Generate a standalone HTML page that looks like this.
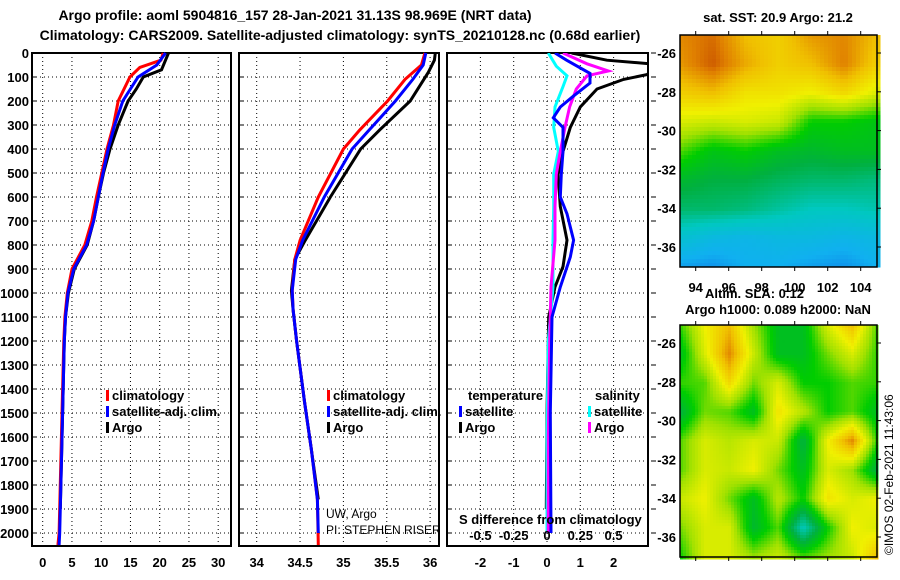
<!DOCTYPE html>
<html><head><meta charset="utf-8">
<style>
body{margin:0;background:#fff;}
svg{display:block;font-family:"Liberation Sans",sans-serif;}
.b{font-weight:bold;font-size:13px;}
.t{font-weight:bold;font-size:14px;}
</style></head>
<body>
<svg id="fig" width="900" height="580" viewBox="0 0 900 580" xmlns="http://www.w3.org/2000/svg">
<text class="t" x="295" y="20" text-anchor="middle">Argo profile: aoml 5904816_157 28-Jan-2021 31.13S 98.969E (NRT data)</text>
<text class="t" x="340" y="40" text-anchor="middle">Climatology: CARS2009. Satellite-adjusted climatology: synTS_20210128.nc (0.68d earlier)</text>
<g id="p1"></g>
<g id="p2"></g>
<g id="p3"></g>
<g id="m1"></g>
<g id="m2"></g>
<text class="b" x="778" y="22" text-anchor="middle">sat. SST: 20.9 Argo: 21.2</text>
<text class="b" x="705" y="298">Altim. SLA: 0.12</text>
<text class="b" x="778" y="314" text-anchor="middle">Argo h1000: 0.089 h2000: NaN</text>
<text x="893" y="555" font-size="12" transform="rotate(-90 893 555)">©IMOS 02-Feb-2021 11:43:06</text>
</svg>
<script>
// ---------- data ----------
const depthTicks=[0,100,200,300,400,500,600,700,800,900,1000,1100,1200,1300,1400,1500,1600,1700,1800,1900,2000];
const tTicks=[0,5,10,15,20,25,30];
const sTicks=[34,34.5,35,35.5,36];
const dTicks=[-2,-1,0,1,2];
const dsTickLabels=["-0.5","-0.25","0","0.25","0.5"];
const tClimDepth=[0,30,60,100,200,300,400,500,600,700,800,900,1000,1100,1200,1500,2000,2050];
const tClimVal=[20.6,20.2,16.6,14.9,12.9,12.1,11,10.1,9.2,8.4,7.2,5,4.2,3.8,3.6,3.3,2.8,2.6];
const tSatDepth=[0,50,100,150,200,300,400,500,600,700,800,900,1000,1100,1200,1500,2000,2050];
const tSatVal=[21,19.5,16.3,15,13.7,12.3,11.2,10.3,9.5,8.7,7.5,5.3,4.3,3.9,3.7,3.4,2.9,2.8];
const tArgoDepth=[0,70,100,150,200,300,400,500,600,700,800,900,1000,1100,1200,1500,1900];
const tArgoVal=[21.5,20.3,17.2,16,14.6,12.9,11.5,10.4,9.5,8.7,7.6,5.4,4.4,3.9,3.7,3.4,3.0];
const sClimDepth=[0,50,110,200,320,400,600,780,860,990,1070,1200,1450,1650,1860,2050];
const sClimVal=[35.94,35.9,35.71,35.51,35.19,35.0,34.71,34.5,34.44,34.41,34.42,34.46,34.55,34.63,34.7,34.71];
const sSatDepth=[0,50,110,200,320,400,600,780,860,990,1070,1200,1450,1650,1860,2000];
const sSatVal=[35.95,35.92,35.8,35.6,35.3,35.1,34.78,34.53,34.45,34.41,34.42,34.46,34.55,34.63,34.7,34.71];
const sArgoDepth=[0,30,80,200,320,400,600,780,860,990,1070,1200,1450,1650,1860];
const sArgoVal=[36.06,36.05,35.98,35.77,35.42,35.2,34.85,34.56,34.44,34.4,34.42,34.46,34.55,34.63,34.71];
const dTSatDepth=[0,30,85,125,180,225,270,310,410,505,600,670,780,850,975,1100,1500,2000];
const dTSatVal=[0.24,0.59,1.29,1.29,0.79,0.4,0.19,0.48,0.48,0.43,0.4,0.6,0.8,0.7,0.4,0.15,0.1,0.12];
const dTArgoDepth=[0,30,45,55,80,90,110,150,225,310,410,505,640,780,890,975,1100,1500,1900];
const dTArgoVal=[0.74,1.8,3.1,3.1,3.1,3.0,2.3,1.5,1.0,0.7,0.48,0.33,0.4,0.6,0.48,0.24,0.05,0.0,-0.02];
const dSSatDepth=[0,55,95,140,225,310,410,505,640,780,975,1200,1600,2000];
const dSSatVal=[0.01,0.07,0.15,0.12,0.06,0.05,0.085,0.05,0.05,0.045,0.045,0.01,0.0,0.0];
const dSArgoDepth=[0,45,75,95,150,225,310,410,505,640,780,975,1200,1600,2000];
const dSArgoVal=[0.12,0.3,0.46,0.3,0.22,0.17,0.135,0.1,0.07,0.06,0.06,0.03,0.02,0.01,0.01];
const sstGrid=[
[.92,.95,.85,.82,.9,.92,.85],
[.9,.97,.88,.82,.85,.93,.82],
[.82,.85,.78,.78,.75,.8,.72],
[.72,.7,.72,.7,.55,.55,.52],
[.6,.52,.55,.5,.48,.5,.5],
[.48,.45,.45,.42,.4,.4,.38],
[.4,.4,.38,.34,.3,.3,.32],
[.25,.2,.18,.2,.2,.18,.2],
[.12,.1,.15,.15,.12,.1,.15]];
const slaGrid=[
[.58,.75,.85,.65,.5,.5,.72,.85,.6],
[.5,.72,.92,.7,.5,.5,.62,.72,.58],
[.58,.6,.8,.62,.72,.55,.55,.6,.58],
[.45,.62,.6,.5,.78,.68,.55,.6,.5],
[.6,.72,.68,.72,.7,.45,.75,.92,.58],
[.6,.72,.7,.75,.62,.5,.72,.65,.45],
[.7,.75,.62,.5,.68,.55,.78,.72,.75],
[.62,.72,.72,.48,.6,.3,.55,.75,.72],
[.55,.72,.72,.65,.7,.6,.65,.7,.85]];
const lonTicks=[94,96,98,100,102,104];
const latTicks=[-26,-28,-30,-32,-34,-36];

// ---------- helpers ----------
const NS="http://www.w3.org/2000/svg";
function mk(parent,tag,attrs,name){const e=document.createElementNS(NS,tag);for(const k in attrs)e.setAttribute(k,attrs[k]);


parent.appendChild(e);return e;}
const yTop=53, yBot=546;
const yD=d=>yTop+d*0.24;

function panel(g,x0,x1,xs,xTickVals,xTickLabels,leftLabels,rightTicks){
  mk(g,'rect',{x:x0,y:yTop,width:x1-x0,height:yBot-yTop,fill:'#fff',stroke:'#000','stroke-width':2},'panel-frame');
  depthTicks.forEach(d=>{
    mk(g,'line',{x1:x0,x2:x1,y1:yD(d),y2:yD(d),stroke:'#000','stroke-dasharray':'1 3','stroke-width':1},'depth-gridline');
    mk(g,'line',{x1:x0,x2:x0+5,y1:yD(d),y2:yD(d),stroke:'#000','stroke-width':1},'depth-tick');
    if(rightTicks) mk(g,'line',{x1:x1+3,x2:x1+8,y1:yD(d),y2:yD(d),stroke:'#000','stroke-width':1},'depth-tick-right');
    if(leftLabels){const t=mk(g,'text',{x:29,y:yD(d)+5,'text-anchor':'end',class:'b'},'depth-tick-label');t.textContent=d;}
  });
  xTickVals.forEach((v,i)=>{
    mk(g,'line',{x1:xs(v),x2:xs(v),y1:yTop,y2:yBot,stroke:'#000','stroke-dasharray':'1 3','stroke-width':1},'x-gridline');
    const t=mk(g,'text',{x:xs(v),y:567,'text-anchor':'middle',class:'b'},'x-tick-label');t.textContent=xTickLabels[i];
  });
}
function line(g,xs,vals,depths,color,name,clip){
  const pts=vals.map((v,i)=>xs(v).toFixed(1)+','+yD(depths[i]).toFixed(1)).join(' ');
  const a={points:pts,fill:'none',stroke:color,'stroke-width':3,'stroke-linejoin':'miter'};
  if(clip)a['clip-path']='url(#'+clip+')';
  mk(g,'polyline',a,name);
}
function legend(g,x,y,items){
  items.forEach((it,i)=>{
    mk(g,'rect',{x:x,y:y+i*16-10,width:3,height:11,fill:it[0]},'legend-marker');
    const t=mk(g,'text',{x:x+6,y:y+i*16,class:'b'},'legend-entry');t.textContent=it[1];
  });
}

// ---------- panel 1 ----------
const g1=document.getElementById('p1');
const xT=v=>42.7+v*5.85;
panel(g1,32,231,xT,tTicks,tTicks.map(String),true,false);
line(g1,xT,tArgoVal,tArgoDepth,'#000','temp-argo-line');
line(g1,xT,tClimVal,tClimDepth,'#f00','temp-climatology-line');
line(g1,xT,tSatVal,tSatDepth,'#00f','temp-satellite-line');
legend(g1,106,400,[['#f00','climatology'],['#00f','satellite-adj. clim.'],['#000','Argo']]);

// ---------- panel 2 ----------
const g2=document.getElementById('p2');
const xS=v=>256.7+(v-34)*86.7;
panel(g2,239,439,xS,sTicks,sTicks.map(String),false,false);
line(g2,xS,sArgoVal,sArgoDepth,'#000','sal-argo-line');
line(g2,xS,sClimVal,sClimDepth,'#f00','sal-climatology-line');
line(g2,xS,sSatVal,sSatDepth,'#00f','sal-satellite-line');
legend(g2,327,400,[['#f00','climatology'],['#00f','satellite-adj. clim.'],['#000','Argo']]);
let t=mk(g2,'text',{x:326,y:518,'font-size':12},'pi-credit-1');t.textContent='UW, Argo';
t=mk(g2,'text',{x:326,y:534,'font-size':12},'pi-credit-2');t.textContent='PI: STEPHEN RISER';

// ---------- panel 3 ----------
const g3=document.getElementById('p3');
const xD=v=>547+v*33.3;
const xDS=v=>547+v*4*33.3;
const cp=mk(document.getElementById('fig'),'clipPath',{id:'c3'},'diff-clip');
mk(cp,'rect',{x:447,y:yTop,width:201,height:yBot-yTop},'diff-clip-rect');
panel(g3,447,648,xD,dTicks,dTicks.map(String),false,true);
line(g3,xD,dTArgoVal,dTArgoDepth,'#000','tdiff-argo-line','c3');
line(g3,xDS,dSSatVal,dSSatDepth,'#0ff','sdiff-satellite-line','c3');
line(g3,xDS,dSArgoVal,dSArgoDepth,'#f0f','sdiff-argo-line','c3');
line(g3,xD,dTSatVal,dTSatDepth,'#00f','tdiff-satellite-line','c3');
t=mk(g3,'text',{x:468,y:400,class:'b'},'legend-temperature-heading');t.textContent='temperature';
t=mk(g3,'text',{x:595,y:400,class:'b'},'legend-salinity-heading');t.textContent='salinity';
legend(g3,459,416,[['#00f','satellite'],['#000','Argo']]);
legend(g3,588,416,[['#0ff','satellite'],['#f0f','Argo']]);
t=mk(g3,'text',{x:459,y:524,class:'b'},'s-difference-label');t.textContent='S difference from climatology';
[-0.5,-0.25,0,0.25,0.5].forEach((v,i)=>{const e=mk(g3,'text',{x:xDS(v),y:540,'text-anchor':'middle',class:'b'},'s-diff-tick-label');e.textContent=dsTickLabels[i];});

// ---------- maps ----------
const stops=[[0,[16,90,225]],[0.15,[16,176,240]],[0.3,[0,200,192]],[0.45,[0,176,64]],[0.55,[0,205,0]],[0.65,[160,225,0]],[0.75,[240,240,0]],[0.85,[240,192,0]],[0.93,[224,128,0]],[1,[192,64,0]]];
function cmap(v){v=Math.max(0,Math.min(1,v));for(let i=1;i<stops.length;i++){if(v<=stops[i][0]){const a=stops[i-1],b=stops[i],f=(v-a[0])/(b[0]-a[0]);return 'rgb('+a[1].map((c,k)=>Math.round(c+(b[1][k]-c)*f)).join(',')+')';}}return 'rgb(192,64,0)';}
function interp(grid,fx,fy){const R=grid.length-1,C=grid[0].length-1;const x=fx*C,y=fy*R;const i=Math.min(R-1,Math.floor(y)),j=Math.min(C-1,Math.floor(x));const u=y-i,w=x-j;
return grid[i][j]*(1-u)*(1-w)+grid[i][j+1]*(1-u)*w+grid[i+1][j]*u*(1-w)+grid[i+1][j+1]*u*w;}
function map(gid,grid,x0,y0,w,h,cell,lat26,lat36,labels){
  const g=document.getElementById(gid);
  for(let y=0;y<h;y+=cell)for(let x=0;x<w;x+=cell){
    const v=interp(grid,(x+cell/2)/w,(y+cell/2)/h);
    mk(g,'rect',{x:x0+x,y:y0+y,width:cell+0.5,height:cell+0.5,fill:cmap(v)},'map-cell');
  }
  mk(g,'rect',{x:x0,y:y0,width:w,height:h,fill:'none',stroke:'#000','stroke-width':1.5},'map-frame');
  const lx=lon=>695.7+(lon-94)*16.5;
  lonTicks.forEach(lon=>{
    mk(g,'line',{x1:lx(lon),x2:lx(lon),y1:y0-4,y2:y0,stroke:'#000'},'lon-tick-top');
    mk(g,'line',{x1:lx(lon),x2:lx(lon),y1:y0+h,y2:y0+h+4,stroke:'#000'},'lon-tick-bottom');
    if(labels){const e=mk(g,'text',{x:lx(lon),y:292,'text-anchor':'middle',class:'b','font-size':14},'lon-tick-label');e.textContent=lon;}
  });
  latTicks.forEach(lat=>{
    const yy=lat26+(-26-lat)*(lat36-lat26)/10;
    mk(g,'line',{x1:x0+w,x2:x0+w+4,y1:yy,y2:yy,stroke:'#000'},'lat-tick');
    const e=mk(g,'text',{x:676,y:yy+5,'text-anchor':'end',class:'b'},'lat-tick-label');e.textContent=lat;
  });
}
map('m1',sstGrid,680,35,197,232,4,53,247,true);
map('m2',slaGrid,680,325,197,232,3,343,537,false);
</script>
</body></html>
